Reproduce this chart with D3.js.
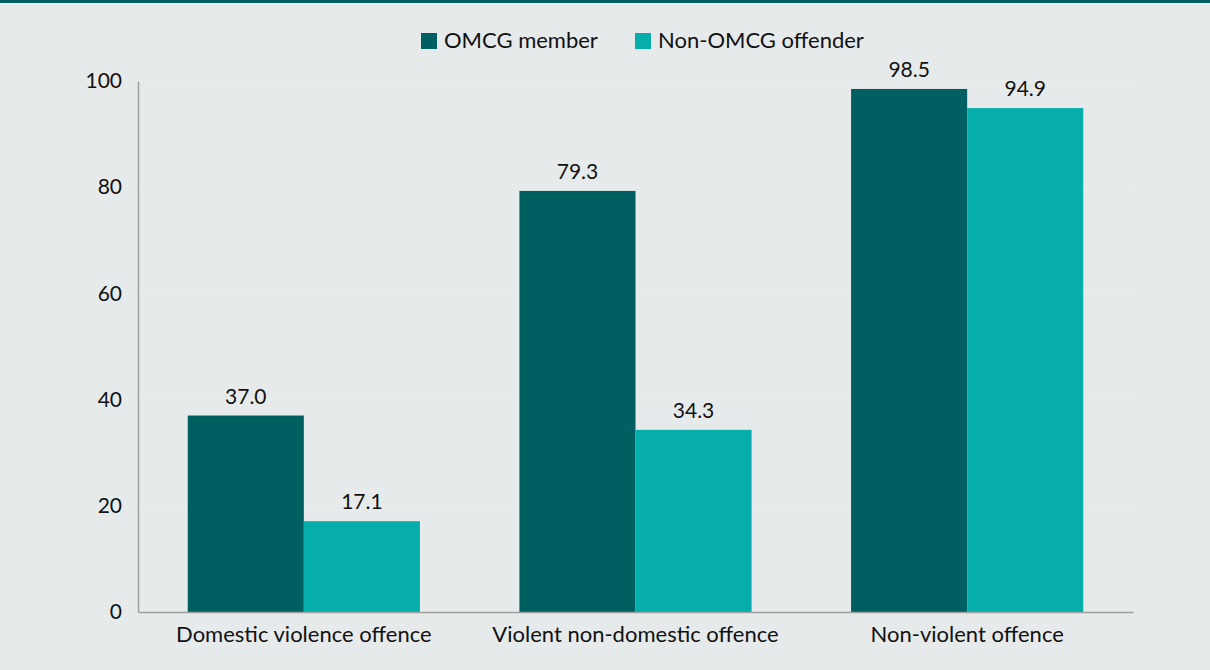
<!DOCTYPE html>
<html><head><meta charset="utf-8">
<script src="https://cdn.jsdelivr.net/npm/d3@7"></script>
<style>
html,body{margin:0;padding:0;background:#e6eaeb;}
svg{display:block;}
text{font-family:Lato,"Open Sans",sans-serif;fill:#111;}
</style></head>
<body>
<svg id="chart" width="1210" height="670"></svg>
<script>
const categories = ["Domestic violence offence", "Violent non-domestic offence", "Non-violent offence"];
const seriesNames = ["OMCG member", "Non-OMCG offender"];
const omcgValues = [37.0, 79.3, 98.5];
const nonOmcgValues = [17.1, 34.3, 94.9];
const yTicks = [0, 20, 40, 60, 80, 100];
const colors = ["#005f61", "#05aeaa"];

const svg = d3.select("#chart");
const W = 1210, H = 670;
svg.append("rect").attr("width", W).attr("height", H).attr("fill", "#e6eaeb");
svg.append("rect").attr("x", 0).attr("y", 0).attr("width", W).attr("height", 3).attr("fill", "#005f61");

const m = {left: 138, right: 1133, top: 81, bottom: 612};
const x = d3.scaleBand().domain(categories).range([m.left, m.right]).paddingInner(0.3).paddingOuter(0.15);
const x1 = d3.scaleBand().domain(seriesNames).range([0, x.bandwidth()]);
const y = d3.scaleLinear().domain([0, 100]).range([m.bottom, m.top]);

// gridlines
svg.append("g").selectAll("line").data(yTicks.filter(d => d > 0)).join("line")
  .attr("x1", m.left).attr("x2", m.right)
  .attr("y1", d => y(d)).attr("y2", d => y(d))
  .attr("stroke", "#eceeee").attr("stroke-width", 1);

const data = categories.map((c, i) => ({cat: c, vals: [omcgValues[i], nonOmcgValues[i]]}));

const g = svg.append("g");
data.forEach(d => {
  d.vals.forEach((v, j) => {
    const bx = x(d.cat) + x1(seriesNames[j]);
    g.append("rect").attr("x", bx).attr("y", y(v))
      .attr("width", x1.bandwidth()).attr("height", y(0) - y(v))
      .attr("fill", colors[j]);
    g.append("text").attr("x", bx + x1.bandwidth() / 2).attr("y", y(v) - 12)
      .attr("text-anchor", "middle").attr("font-size", 21).text(v.toFixed(1));
  });
});

// y axis
const yAxis = d3.axisLeft(y).tickValues(yTicks).tickSize(0).tickPadding(16);
const ya = svg.append("g").attr("transform", `translate(${m.left},0)`).call(yAxis);
ya.select(".domain").attr("stroke", "#a0a0a0").attr("stroke-width", 1.5);
ya.selectAll("text").attr("font-size", 21).attr("fill", "#111").style("font-family", "Lato");

// x axis
const xAxis = d3.axisBottom(x).tickSize(0).tickPadding(14);
const xa = svg.append("g").attr("transform", `translate(0,${m.bottom})`).call(xAxis);
xa.select(".domain").attr("stroke", "#a0a0a0").attr("stroke-width", 1.5);
xa.selectAll("text").attr("font-size", 22).attr("fill", "#111").style("font-family", "Lato");

// legend
const legX = [421, 635];
const leg = svg.append("g");
seriesNames.forEach((s, i) => {
  leg.append("rect").attr("x", legX[i]).attr("y", 33).attr("width", 16).attr("height", 16).attr("fill", colors[i]);
  leg.append("text").attr("x", legX[i] + 23).attr("y", 48).attr("font-size", 22).text(s);
});
</script>
</body></html>
